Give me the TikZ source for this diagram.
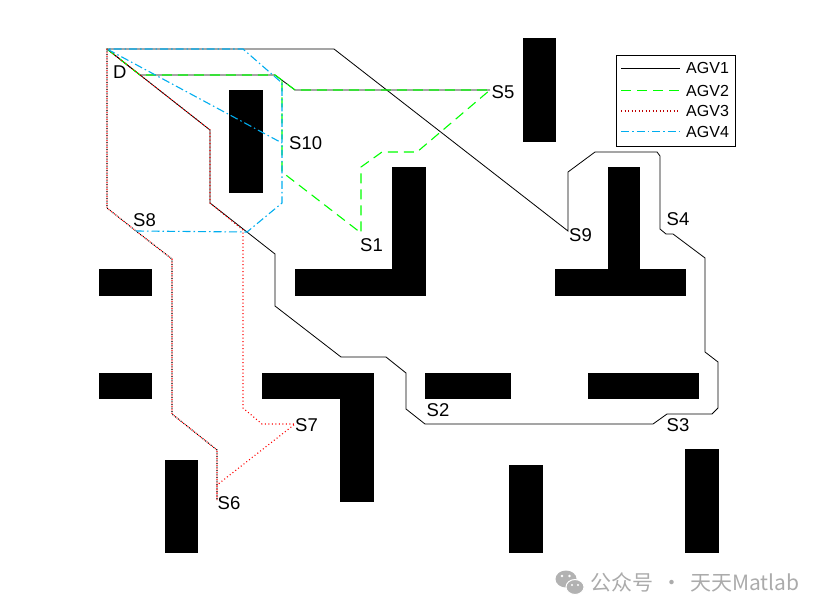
\documentclass[tikz,border=0pt]{standalone}
\usepackage{fontspec}
\setmainfont{Liberation Sans}
\newfontfamily\cjk{Noto Sans CJK SC}
\usetikzlibrary{positioning}

\begin{document}
\begin{tikzpicture}[
    x=1pt, y=-1pt,
    block/.style={fill=black},
    site/.style={inner sep=0pt, anchor=west, font=\fontsize{18.5}{20}\selectfont},
    legtext/.style={inner sep=0pt, anchor=west, font=\fontsize{16}{18}\selectfont},
    agv1/.style={black, line width=0.8pt},
    agv2/.style={green, line width=1.1pt, dash pattern=on 10pt off 6pt},
    agv3/.style={red, line width=1.1pt, dash pattern=on 1pt off 2.5pt},
    agv4/.style={cyan, line width=1.1pt, dash pattern=on 8pt off 3pt on 1.5pt off 3pt}
]
    \useasboundingbox (0,0) rectangle (826,615);

    % obstacles
    \foreach \xa/\ya/\xb/\yb in {523/38/556/142, 229/90/263/193,
        392/167/426/296, 295/269/426/296, 608/167/640/296, 555/269/686/296,
        99/269/152/296, 99/373/152/399, 262/373/374/399, 340/373/374/502,
        425/373/511/399, 588/373/699/399, 165/460/198/553, 509/465/543/553,
        685/449/719/553}
        \fill[block] (\xa,\ya) rectangle (\xb,\yb);

    % stations
    \coordinate (D) at (107,49);
    \coordinate (S1) at (361,233);
    \coordinate (S2) at (425,424);
    \coordinate (S3) at (667,414);
    \coordinate (S4) at (660,229);
    \coordinate (S5) at (490,90);
    \coordinate (S6) at (217,500);
    \coordinate (S7) at (295,424);
    \coordinate (S8) at (136,231);
    \coordinate (S9) at (568,231);
    \coordinate (S10) at (282,143);

    % AGV1
    \draw[agv1] (D) -- (334,49) -- (S9) -- (568,172) -- (595,152) -- (657,152) -- (660,156)
        -- (S4) -- (666,234) -- (673,234) -- (705,258) -- (705,352) -- (718,362) -- (718,408)
        -- (712,414) -- (S3) -- (653,424) -- (S2) -- (406,409) -- (406,373) -- (386,357)
        -- (341,357) -- (275,306) -- (275,254) -- (210,203) -- (210,130) -- cycle;
    \draw[agv1] (D) -- (140,75) -- (275,75) -- (295,90) -- (S5);

    % AGV2
    \draw[agv2] (D) -- (140,75) -- (275,75) -- (295,90) -- (S5) -- (417,152) -- (382,152)
        -- (361,167) -- (S1) -- (282,172) -- (282,80);

    % AGV3
    \draw[agv3, black, dash phase=1.75pt] (D) -- (107,208) -- (S8) -- (172,259) -- (172,414)
        -- (217,450) -- (S6);
    \draw[agv3] (D) -- (107,208) -- (S8) -- (172,259) -- (172,414) -- (217,450) -- (S6)
        -- (217,485) -- (S7) -- (262,424) -- (243,408) -- (243,230) -- (210,203) -- (210,130) -- cycle;

    % AGV4
    \draw[agv4] (S8) -- (247,232) -- (282,203) -- (282,83) -- (243,49) -- (D) -- (S10);

    % labels
    \node[site] (lD) at (113,72) {D};
    \node[site] (lS10) at (289,143) {S10};
    \node[site] (lS5) at (491.5,92) {S5};
    \node[site] (lS1) at (360,245.5) {S1};
    \node[site] (lS9) at (569,235) {S9};
    \node[site] (lS4) at (666.5,219) {S4};
    \node[site] (lS3) at (666.5,425) {S3};
    \node[site] (lS2) at (426.5,410) {S2};
    \node[site] (lS7) at (295,425) {S7};
    \node[site] (lS6) at (217.5,503) {S6};
    \node[site] (lS8) at (133,220) {S8};

    % legend
    \node[draw, fill=white, line width=0.6pt, inner sep=0pt, minimum width=119pt,
        minimum height=91pt, anchor=north west] (legbox) at (616,55) {};
    \coordinate (la1) at (621,68);   \coordinate (lb1) at (680,68);
    \coordinate (la2) at (621,90.5); \coordinate (lb2) at (680,90.5);
    \coordinate (la3) at (621,111);  \coordinate (lb3) at (680,111);
    \coordinate (la4) at (621,131.5);\coordinate (lb4) at (680,131.5);
    \draw[agv1] (la1) -- (lb1);
    \draw[agv2] (la2) -- (lb2);
    \draw[agv3, red!75!black] (la3) -- (lb3);
    \draw[agv4] (la4) -- (lb4);
    \node[legtext, right=6pt of lb1] (t1) {AGV1};
    \node[legtext, right=6pt of lb2] (t2) {AGV2};
    \node[legtext, right=6pt of lb3] (t3) {AGV3};
    \node[legtext, right=6pt of lb4] (t4) {AGV4};

    % watermark
    \fill[black!30] (566,579) ellipse (10.5pt and 8.5pt);
    \filldraw[fill=black!30, draw=white, line width=1pt] (575,587) ellipse (9pt and 7.5pt);
    \fill[white] (562,576) circle (1.3pt) (569.5,576) circle (1.3pt)
        (572,585) circle (1.1pt) (578,585) circle (1.1pt);
    \node[anchor=west, inner sep=0pt, text=black!33, font=\cjk\fontsize{21}{22}\selectfont]
        (wm) at (590,582) {公众号\hspace{8pt}·\hspace{8pt}天天Matlab};
\end{tikzpicture}
\end{document}
